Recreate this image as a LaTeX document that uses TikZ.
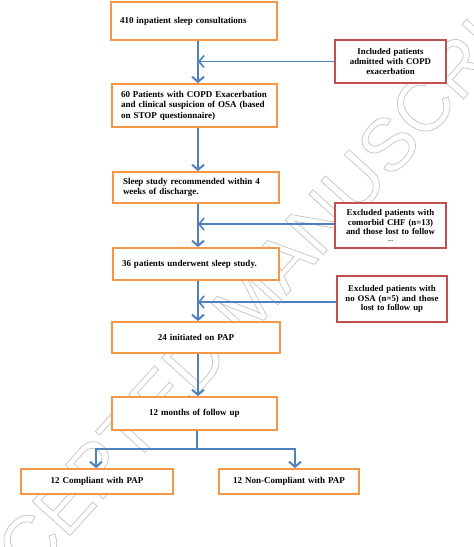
\documentclass[tikz,border=0pt]{standalone}
\usepackage{fontspec}
\setmainfont{Liberation Serif}
\newfontfamily\wmfont{Liberation Sans}
\usetikzlibrary{arrows.meta}
\definecolor{obord}{HTML}{F79646}
\definecolor{rbord}{HTML}{C0504D}
\definecolor{aline}{HTML}{4F81BD}
\definecolor{wmgray}{HTML}{C4C4C4}
\begin{document}
\begin{tikzpicture}[x=1pt,y=-1pt,
  mbox/.style={draw=obord, line width=2pt, fill=white, rectangle, inner xsep=9pt, inner ysep=0pt,
    font=\bfseries\fontsize{9}{10.5}\selectfont},
  lbox/.style={mbox, align=left},
  cbox/.style={mbox, align=center},
  rbox/.style={draw=rbord, line width=2pt, fill=white, rectangle, inner xsep=3pt, inner ysep=0pt, align=center,
    font=\bfseries\fontsize{8.8}{9.8}\selectfont},
  varr/.style={draw=aline, line width=2.2pt, -{Straight Barb[length=5pt,width=12pt,line width=2pt]}},
  vline/.style={draw=aline, line width=2.2pt},
  harr/.style={draw=aline, line width=1.3pt, -{Straight Barb[length=5pt,width=12pt,line width=1.6pt]}},
  wm/.style={text=wmgray, font=\wmfont\fontsize{74}{74}\selectfont, inner sep=0pt}]
\useasboundingbox (0,0) rectangle (474,547);
\fill[white] (0,0) rectangle (474,547);
% watermark
\node[wm, rotate=48] (wmark) at (248,300) {\special{pdf:literal direct 1 Tr 0.7 w}ACCEPTED MANUSCRIPT\special{pdf:literal direct 0 Tr}};
% spine coordinates
\coordinate (sp) at (198,0);
\coordinate (bl) at (96,449);
\coordinate (bm) at (197,449);
\coordinate (brr) at (295,449);
% main boxes
\node[lbox, minimum width=166pt, minimum height=38pt, text width=148pt] (b1) at (194,21) {410 inpatient sleep consultations};
\node[lbox, minimum width=165pt, minimum height=43pt, text width=147pt] (b2) at (194.5,105.5) {60 Patients with COPD Exacerbation\\and clinical suspicion of OSA (based\\on STOP questionnaire)};
\node[lbox, minimum width=166pt, minimum height=31pt, text width=146pt, inner xsep=10pt] (b3) at (196,187.5) {Sleep study recommended within 4\\weeks of discharge.};
\node[lbox, minimum width=166pt, minimum height=32pt, text width=148pt] (b4) at (196,264) {36 patients underwent sleep study.};
\node[cbox, minimum width=168pt, minimum height=31pt, text width=150pt] (b5) at (196,337.5) {24 initiated on PAP};
\node[cbox, minimum width=165pt, minimum height=33pt, text width=147pt] (b6) at (194.5,413.5) {12 months of follow up};
\node[cbox, minimum width=152pt, minimum height=25pt, text width=134pt] (b7) at (97,481.5) {12 Compliant with PAP};
\node[cbox, minimum width=140pt, minimum height=25pt, text width=122pt] (b8) at (289,481.5) {12 Non-Compliant with PAP};
% side boxes
\node[rbox, minimum width=111pt, minimum height=43pt, text width=105pt] (r1) at (390.5,61.5) {Included patients\\admitted with COPD\\exacerbation};
\node[rbox, minimum width=111pt, minimum height=45pt, text width=105pt] (r2) at (390.5,225.5) {Excluded patients with\\comorbid CHF (n=13)\\and those lost to follow\\[-3pt]{\fontsize{5}{5}\selectfont ....}};
\node[rbox, minimum width=110pt, minimum height=46pt, text width=104pt] (r3) at (392,299) {Excluded patients with\\no OSA (n=5) and those\\lost to follow up};
% vertical flow
\draw[varr] (b1.south -| sp) -- (b2.north -| sp);
\draw[varr] (b2.south -| sp) -- (b3.north -| sp);
\draw[varr] (b3.south -| sp) -- (b4.north -| sp);
\draw[varr] (b4.south -| sp) -- (b5.north -| sp);
\draw[varr] (b5.south -| sp) -- (b6.north -| sp);
% side connectors
\draw[harr] (r1.west) -- (r1.west -| sp);
\draw[harr] (r2.west |- 0,224) -- (sp |- 0,224);
\draw[harr] (r3.west |- 0,302) -- (sp |- 0,302);
% branch
\draw[vline] (b6.south -| bm) -- (bm);
\draw[vline] (bl) -- (brr);
\draw[varr] ([yshift=1.1pt]bl) -- (b7.north -| bl);
\draw[varr] ([yshift=1.1pt]brr) -- (b8.north -| brr);
\end{tikzpicture}
\end{document}
